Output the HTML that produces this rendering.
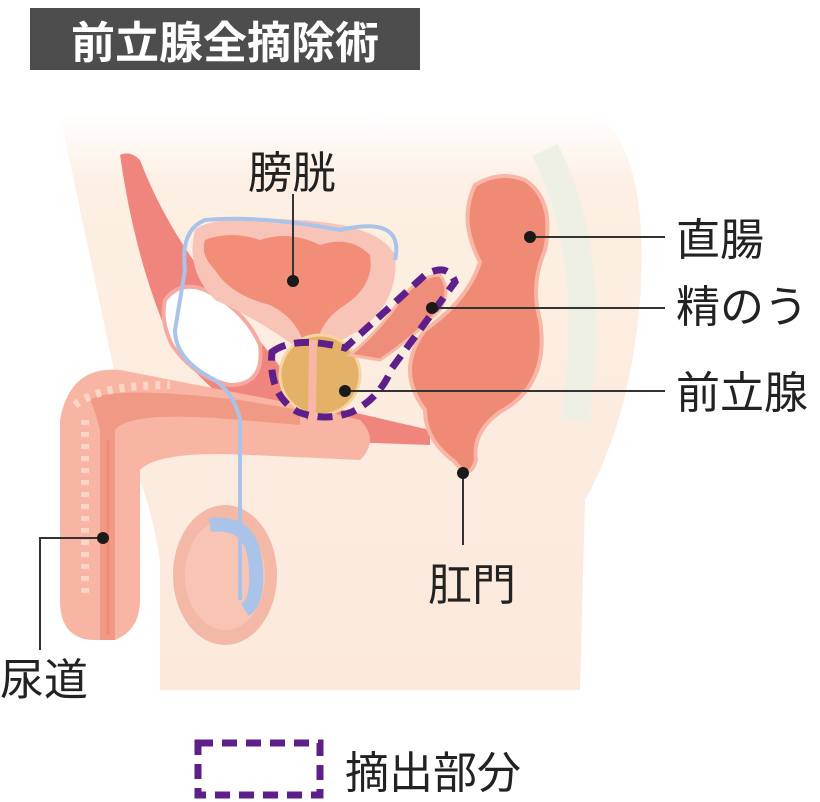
<!DOCTYPE html>
<html><head><meta charset="utf-8"><style>
html,body{margin:0;padding:0;background:#fff;width:820px;height:802px;overflow:hidden}
svg{display:block}
text{font-family:"Liberation Sans","Noto Sans CJK JP",sans-serif}
</style></head><body>
<svg width="820" height="802" viewBox="0 0 820 802" xmlns="http://www.w3.org/2000/svg">
<defs>
<linearGradient id="sk" x1="0" y1="0" x2="0" y2="1">
<stop offset="0" stop-color="#fff" /><stop offset="0.12" stop-color="#fdefe3"/><stop offset="1" stop-color="#fce9dc"/>
</linearGradient>
</defs>
<rect x="30" y="8" width="390" height="62" fill="#4d4d4d"/>
<text x="225" y="58" font-size="44" fill="#fff" text-anchor="middle" font-weight="bold">前立腺全摘除術</text>
<path d="M62,115 L600,115 Q650,160 640,300 Q630,420 585,500 L580,690 L160,690 L160,560 Q150,500 135,470 L60,115 Z" fill="url(#sk)"/>
<path d="M545,150 Q600,260 575,420" stroke="#eef0e4" stroke-width="28" fill="none"/>
<path d="M120,155 Q130,150 140,160 Q170,240 240,320 Q280,360 300,400 L430,430 L430,445 L290,440 Q210,400 170,340 Q135,260 120,155 Z" fill="#f0857d"/>
<path d="M165,300 Q180,280 205,290 Q245,310 260,345 Q265,385 230,385 Q195,378 172,345 Q160,320 165,300 Z" fill="#fff" stroke="#f5a9a0" stroke-width="4"/>
<path d="M300,405 L120,370 Q70,365 60,420 L60,600 Q60,640 95,640 L115,640 Q140,630 140,600 L140,470 Q160,450 250,455 L360,460 Q380,440 360,420 Z" fill="#f8b5a4"/>
<path d="M90,400 Q110,385 240,400 L300,410 L300,425 L240,420 Q130,410 115,430 L115,640 L100,640 L100,430 Q95,410 90,400 Z" fill="#f09a85"/>
<path d="M75,405 Q100,385 170,385" stroke="#fbd6c6" stroke-width="8" fill="none" stroke-dasharray="5 7"/>
<path d="M85,420 L85,600" stroke="#fbd6c6" stroke-width="8" fill="none" stroke-dasharray="5 7"/>
<path d="M108,440 L108,635" stroke="#f48a78" stroke-width="3" fill="none"/>
<ellipse cx="225" cy="575" rx="52" ry="70" fill="#f4b8a6"/>
<ellipse cx="225" cy="575" rx="40" ry="55" fill="#f8c5b5"/>
<path d="M210,525 Q250,520 255,560 Q260,600 245,610" stroke="#a9c4e8" stroke-width="14" fill="none"/>
<path d="M195,230 Q210,215 300,220 Q380,225 395,255 Q400,300 360,330 Q330,345 320,360 L300,350 Q260,320 215,300 Q185,270 195,230 Z" fill="#f9c4b8"/>
<path d="M205,240 Q230,230 260,240 Q290,230 320,245 Q350,235 370,255 Q375,285 345,305 Q320,320 315,350 L305,350 Q300,320 270,305 Q230,295 215,270 Q200,255 205,240 Z" fill="#f28e78"/>
<path d="M305,330 L310,420" stroke="#f28e78" stroke-width="8"/>
<path d="M395,260 Q405,215 340,230 Q260,215 205,220 Q180,230 185,270 Q180,300 175,330 Q175,360 215,380 Q235,395 240,420 L240,600" stroke="#a9c4e8" stroke-width="4" fill="none"/>
<circle cx="320" cy="375" r="40" fill="#e3b168" stroke="#f8d5a0" stroke-width="3"/>
<path d="M313,340 L312,420" stroke="#f9b6a6" stroke-width="8"/>
<path d="M350,355 Q380,330 400,300 Q420,275 440,275 Q452,290 440,310 Q410,340 380,360 Z" fill="#ee8d7a" stroke="#f8b8a6" stroke-width="3"/>
<path d="M475,185 Q500,170 525,180 Q555,200 545,250 Q530,285 540,320 Q550,385 500,412 Q472,432 476,460 Q470,482 455,462 Q425,440 425,410 Q395,370 425,330 Q468,300 480,262 Q458,220 475,185 Z" fill="#ef8a74" stroke="#f9b6a6" stroke-width="4"/>
<path d="M272,352 Q295,335 345,348 L425,275 Q448,262 455,282 L392,368 Q380,398 352,412 Q325,422 298,412 Q268,395 272,352 Z" fill="none" stroke="#5e1f8a" stroke-width="7" stroke-dasharray="15 9"/>
<g stroke="#333" stroke-width="2">
<line x1="293" y1="194" x2="293" y2="280"/>
<line x1="530" y1="237" x2="665" y2="237"/>
<line x1="432" y1="308" x2="665" y2="308"/>
<line x1="345" y1="391" x2="665" y2="391"/>
<line x1="463" y1="473" x2="463" y2="545"/>
<polyline points="103,538 40,538 40,650" fill="none"/>
</g>
<g fill="#1a1a1a">
<circle cx="293" cy="281" r="6"/><circle cx="530" cy="237" r="6"/><circle cx="432" cy="308" r="6"/>
<circle cx="345" cy="391" r="6"/><circle cx="463" cy="473" r="6"/><circle cx="103" cy="538" r="6"/>
</g>
<g font-size="44" fill="#222">
<text x="248" y="188">膀胱</text>
<text x="676" y="255">直腸</text>
<text x="676" y="322">精のう</text>
<text x="676" y="408">前立腺</text>
<text x="428" y="600">肛門</text>
<text x="0" y="695">尿道</text>
<text x="345" y="788">摘出部分</text>
</g>
<rect x="198" y="743" width="122" height="52" fill="none" stroke="#5e1f8a" stroke-width="7" stroke-dasharray="15 9"/>
</svg>
</body></html>
